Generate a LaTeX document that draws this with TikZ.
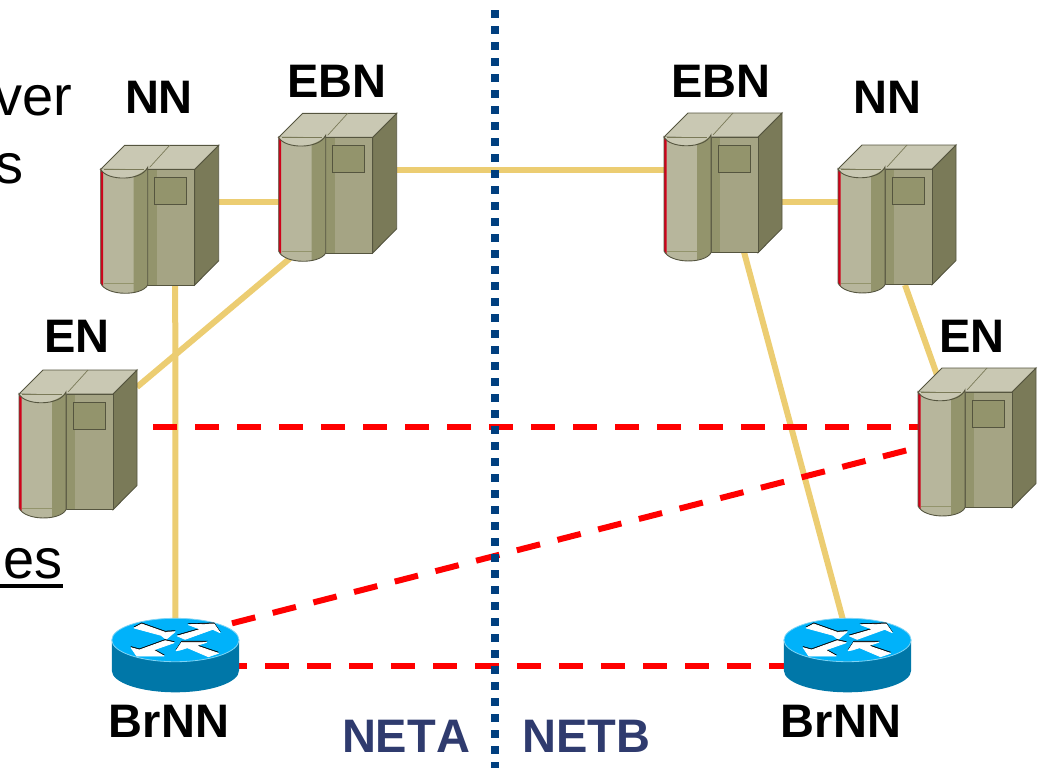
\documentclass[tikz,border=0pt]{standalone}
\usepackage{fontspec}
\setmainfont{Liberation Sans}
\usetikzlibrary{backgrounds}
\definecolor{srvSide}{HTML}{7A7A58}
\definecolor{srvTop}{HTML}{C9C8B3}
\definecolor{srvFront}{HTML}{A5A484}
\definecolor{srvBand}{HTML}{93946C}
\definecolor{srvCyl}{HTML}{B7B69C}
\definecolor{srvLine}{HTML}{55553F}
\definecolor{srvRed}{HTML}{D0021B}
\definecolor{rtrTop}{HTML}{00B2FA}
\definecolor{rtrSide}{HTML}{0077A8}
\definecolor{rtrRim}{HTML}{7FD4F5}
\definecolor{linkYellow}{HTML}{ECCD72}
\definecolor{linkRed}{HTML}{FF0000}
\definecolor{divBlue}{HTML}{003F7F}
\definecolor{netBlue}{HTML}{2F3B6E}
\tikzset{
	devbox/.style={rectangle, inner sep=0, outer sep=0},
	rtrarrow/.style={fill=white, draw=white, line width=.8pt, line join=round, preaction={fill=black, draw=black, transform canvas={yshift=1.2pt}}},
	devlabel/.style={anchor=base, inner sep=0, font=\bfseries\fontsize{47}{50}\selectfont},
	netlabel/.style={anchor=base, inner sep=0, text=netBlue, font=\bfseries\fontsize{47}{50}\selectfont\addfontfeature{Kerning=Off}},
	textcut/.style={anchor=base east, inner sep=0, font=\fontsize{56}{60}\selectfont},
	link/.style={draw=linkYellow, line width=6pt},
	virtlink/.style={draw=linkRed, line width=6pt, dash pattern=on 24pt off 18pt},
	netdiv/.style={draw=divBlue, line width=8pt, dash pattern=on 8pt off 8pt},
	pics/server/.style={code={
		\node at (0,0) [devbox, minimum width=118pt, minimum height=148pt] (-box) {};
		\begin{scope}[shift={(-59,-74)},line width=.9pt,draw=srvLine]
			\filldraw[fill=srvSide] (94,24) -- (118,0) -- (118,115.4) -- (94,139.7) -- cycle;
			\filldraw[fill=srvTop] (0,24) -- (24,0) -- (118,0) -- (94,24) -- cycle;
			\draw[srvSide, line width=.7pt] (69,0) -- (49,22);
			\fill[srvFront] (47,24) rectangle (94,139.7);
			\fill[srvBand] (47,24) rectangle (56,139.7);
			\draw (47,24) rectangle (94,139.7);
			\filldraw[fill=srvBand] (54,32) rectangle (86,59);
			\fill[srvTop] (0,24) .. controls (6,36) and (41,36) .. (47,22) -- cycle;
			\fill[srvCyl] (0,24) .. controls (6,36) and (41,36) .. (47,22) -- (47,139.7) .. controls (41,151) and (6,151) .. (0,138) -- cycle;
			\fill[srvBand] (33,31) .. controls (39,29) and (44,26) .. (47,22) -- (47,139.7) .. controls (44,143) and (39,146) .. (33,147) -- cycle;
			\fill[srvRed] (0,24) -- (2.5,27) -- (2.5,141) -- (0,138) -- cycle;
			\draw[srvSide] (3,24) -- (43,24);
			\draw[srvBand, line width=.5pt] (3,138) -- (33,138);
			\draw (0,24) .. controls (6,36) and (41,36) .. (47,22) -- (47,139.7) .. controls (41,151) and (6,151) .. (0,138) -- cycle;
		\end{scope}
	}},
	pics/router/.style={code={
		\node at (0,0) [devbox, minimum width=127.2pt, minimum height=74pt] (-box) {};
		\begin{scope}[shift={(0,-15.3)}]
			\fill[rtrSide] (-63.6,0) -- (-63.6,30.6) arc[x radius=63.6,y radius=21.7,start angle=180,end angle=0] -- (63.6,0) -- cycle;
			\filldraw[fill=rtrTop,draw=rtrRim,line width=.8pt] (0,0) ellipse[x radius=63.6,y radius=21.7];
			\path[rtrarrow] (-33.7,-16) -- (-10.3,-7.7) -- (-.3,-8.3) -- (-9.3,-.7) -- (-14.3,-4.7) -- (-41.3,-12) -- cycle;
			\path[rtrarrow] (2,-4) -- (25.3,-10.7) -- (13,-15.3) -- (38.7,-16) -- (44.7,-7.3) -- (37.3,-10.7) -- (9.7,-.7) -- cycle;
			\path[rtrarrow] (-10.3,.7) -- (-1.3,2.7) -- (-22,10) -- (-11.3,16) -- (-38.7,16) -- (-44.3,7.7) -- (-36,10) -- cycle;
			\path[rtrarrow] (.7,10.7) -- (6.3,2.3) -- (31.3,2.3) -- (20.7,5.7) -- (43,13.3) -- (33,16.7) -- (12,7.7) -- (4.7,10) -- cycle;
		\end{scope}
	}}
}
\begin{document}
\begin{tikzpicture}[x=1pt, y=-1pt]
	\useasboundingbox (0,0) rectangle (1038,768);
	% left text cut by the page edge
	\node at (72,115) [textcut] (txtVer) {ver};
	\node at (24,183) [textcut] (txtS) {s};
	\node at (63,578) [textcut] (txtEs) {es};
	\draw[line width=4pt] (0,586) -- ([yshift=-8pt]txtEs.base east);
	% servers
	\pic (nnA) at (159.7,219.3) {server};
	\pic (ebnA) at (337.7,187.3) {server};
	\pic (enA) at (78,444) {server};
	\pic (ebnB) at (723,187) {server};
	\pic (nnB) at (897,219) {server};
	\pic (enB) at (977,442) {server};
	% routers
	\pic (brnnA) at (175.4,655.3) {router};
	\pic (brnnB) at (847.5,655.3) {router};
	% labels
	\node at (159,113) [devlabel] (lblNnA) {NN};
	\node at (337,97) [devlabel] (lblEbnA) {EBN};
	\node at (77,352) [devlabel] (lblEnA) {EN};
	\node at (721,97) [devlabel] (lblEbnB) {EBN};
	\node at (887,113) [devlabel] (lblNnB) {NN};
	\node at (972,352) [devlabel] (lblEnB) {EN};
	\node at (169,737) [devlabel] (lblBrnnA) {BrNN};
	\node at (841,737) [devlabel] (lblBrnnB) {BrNN};
	\node at (406,752.5) [netlabel] (lblNetA) {NETA};
	\node at (586.5,752.5) [netlabel] (lblNetB) {NETB};
	% links behind the devices
	\begin{scope}[on background layer]
		\draw[link] ([yshift=17.3pt]nnA-box.east) -- ([yshift=-14.7pt]ebnA-box.west);
		\draw[link] ([yshift=17.3pt]ebnA-box.east) -- ([yshift=17pt]ebnB-box.west);
		\draw[link] ([yshift=-15pt]ebnB-box.east) -- ([yshift=17pt]nnB-box.west);
		\draw[link] ([xshift=15.5pt]nnA-box.center) -- (brnnA-box.center);
		\draw[link] ([xshift=-47.7pt,yshift=3pt]ebnA-box.south) -- ([yshift=57pt]enA-box.east);
		\draw[link] ([xshift=21pt,yshift=-65pt]ebnB-box.center) -- ([xshift=-4.5pt,yshift=35.3pt]brnnB-box.center);
		\draw[link] ([xshift=8pt,yshift=-66pt]nnB-box.center) -- ([xshift=-40pt,yshift=67pt]enB-box.center);
		\draw[virtlink] ([xshift=16pt,yshift=17pt]enA-box.east) -- ([yshift=15pt]enB-box.west);
		\draw[virtlink] ([xshift=-7pt,yshift=32pt]brnnA-box.east) -- ([xshift=-10pt,yshift=-8pt]enB-box.west);
		\draw[virtlink] ([xshift=-16pt,yshift=-10.7pt]brnnA-box.east) -- ([yshift=-10.7pt]brnnB-box.west);
	\end{scope}
	% border between the two networks
	\coordinate (divTop) at (495.4,10.3);
	\coordinate (divBot) at (495.4,768);
	\draw[netdiv] (divTop) -- (divBot);
\end{tikzpicture}
\end{document}
